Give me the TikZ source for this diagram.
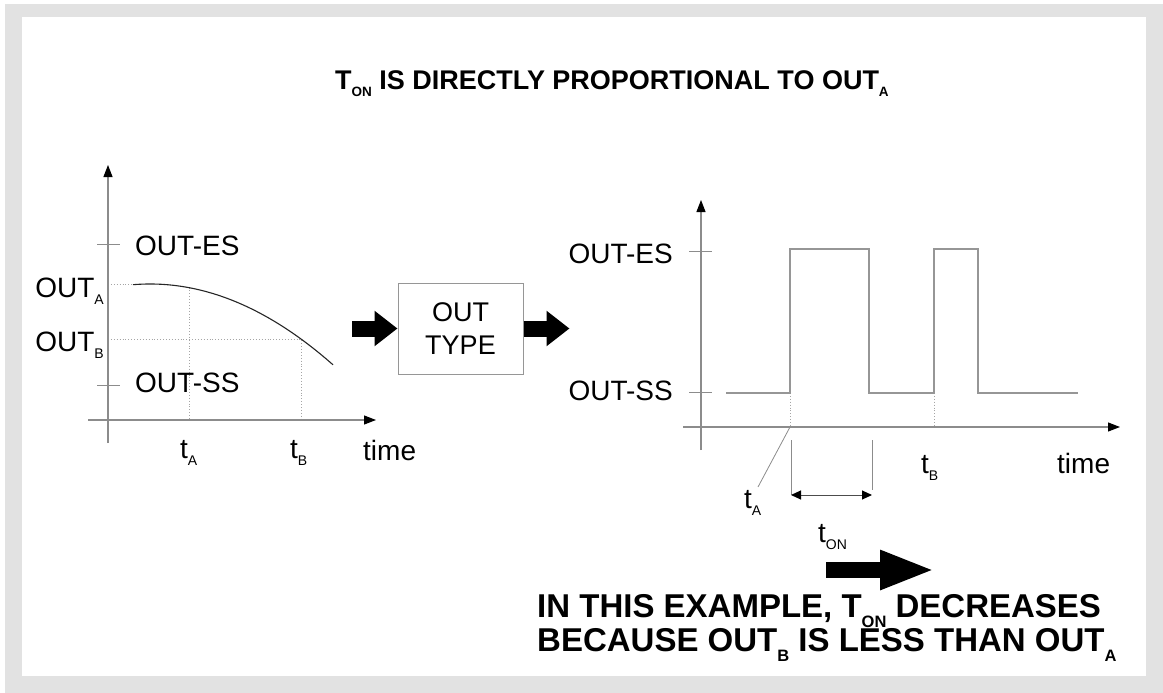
\documentclass[tikz,border=0pt]{standalone}
\usepackage{fontspec}
\setmainfont{Liberation Sans}
\usepackage{graphicx}
\usetikzlibrary{arrows.meta}

\newcommand{\lo}[1]{\raisebox{-0.27em}{\scalebox{0.5}{#1}}}
\newcommand{\lolo}[1]{\raisebox{-0.33em}{\scalebox{0.5}{#1}}}

\tikzset{
  axisline/.style={line width=1.1pt, color=axisGray, -{Triangle[length=12pt,width=9pt,color=black]}},
  tickline/.style={line width=1pt, color=axisGray},
  guideline/.style={line width=0.9pt, color=dotGray, dotted},
  signalline/.style={line width=1.1pt, color=sigGray},
  fatarrow/.style={line width=16pt, -{Triangle[length=23pt,width=34pt]}},
  bigarrow/.style={line width=16pt, -{Triangle[length=55pt,width=36pt]}},
  lbl/.style={inner sep=0pt, font=\fontsize{28}{33}\selectfont},
  note/.style={inner sep=0pt, font=\fontsize{33}{33}\selectfont\bfseries}
}

\begin{document}
\begin{tikzpicture}[x=1pt,y=-1pt]
\definecolor{frameGray}{RGB}{226,226,226}
\definecolor{axisGray}{RGB}{140,140,140}
\definecolor{sigGray}{RGB}{150,150,150}
\definecolor{dotGray}{RGB}{165,165,165}
\useasboundingbox (0,0) rectangle (1163,693);
\fill[frameGray] (5,4) rectangle (1163,693);
\fill[white] (22,17) rectangle (1146,676);

\node[anchor=base west, inner sep=0pt, font=\fontsize{27}{32}\selectfont\bfseries] (title) at (335,89) {T\lo{ON} IS DIRECTLY PROPORTIONAL TO OUT\lo{A}};

% input curve
\draw[guideline] (108,284) -- (133,284);
\draw[guideline] (189,287.5) -- (189,420);
\draw[guideline] (108,339) -- (301,339) -- (301,420);
\draw[line width=1.1pt, color=black!85] (133,284.7) .. controls (199.6,279.2) and (266.3,305.9) .. (333,364.8);
\draw[axisline] (108,443) -- (108,165);
\draw[axisline] (88,420) -- (376,420);
\draw[tickline] (97,244) -- (120,244);
\draw[tickline] (97,385) -- (120,385);
\node[lbl, anchor=base west] (esL) at (135,255) {OUT-ES};
\node[lbl, anchor=base west] (ssL) at (135,392) {OUT-SS};
\node[lbl, anchor=base east] (outA) at (104,297) {OUT\lo{A}};
\node[lbl, anchor=base east] (outB) at (104,351) {OUT\lo{B}};
\node[lbl, anchor=base west] (tAL) at (180,458) {t\lo{A}};
\node[lbl, anchor=base west] (tBL) at (290,458) {t\lo{B}};
\node[lbl, anchor=base west] (timeL) at (363,460) {time};

% block
\node[draw=sigGray, line width=1pt, minimum width=125pt, minimum height=91pt, align=center, font=\fontsize{27}{33}\selectfont] (outtype) at (460.5,328.5) {OUT\\TYPE};
\coordinate (feed) at (352,328.5);
\draw[fatarrow] (feed) -- (outtype.west);
\draw[fatarrow] (outtype.east) -- ++(46,0);

% output pulses
\draw[guideline] (790,393) -- (790,427);
\draw[guideline] (934,393) -- (934,427);
\draw[signalline] (726,393) -- (790,393) -- (790,249) -- (869,249) -- (869,393) -- (934,393) -- (934,249) -- (978,249) -- (978,393) -- (1078,393);
\draw[axisline] (701,450) -- (701,200);
\draw[axisline] (683,427) -- (1120,427);
\draw[tickline] (689,251) -- (712,251);
\draw[tickline] (689,392) -- (712,392);
\node[lbl, anchor=base east] (esR) at (673,263) {OUT-ES};
\node[lbl, anchor=base east] (ssR) at (673,400) {OUT-SS};
\node[lbl, anchor=base west] (tBR) at (921,473) {t\lo{B}};
\node[lbl, anchor=base west] (timeR) at (1057,473) {time};
\node[lbl, anchor=base west] (tAR) at (744,508) {t\lo{A}};
\node[lbl, anchor=base west] (tON) at (818,542) {t\lo{ON}};
\coordinate (riseA) at (790,427);
\coordinate (leadA) at (758,487);
\draw[tickline, line width=0.8pt] (riseA) -- (leadA);
\coordinate (onL) at (791,495);
\coordinate (onR) at (872,495);
\draw[tickline] (791,440) -- (onL);
\draw[tickline] (872,440) -- (872,490);
\draw[line width=1pt, color=black!70, {Triangle[length=10pt,width=9pt,color=black]}-{Triangle[length=10pt,width=9pt,color=black]}] (onL) -- (onR);

\coordinate (bigS) at (826,570);
\coordinate (bigE) at (935,570);
\draw[bigarrow] (bigS) -- (bigE);
\node[note, anchor=base west] (note1) at (537,617) {IN THIS EXAMPLE, T\lolo{ON} DECREASES};
\node[note, anchor=base west] (note2) at (537,651) {BECAUSE OUT\lolo{B} IS LESS THAN OUT\lolo{A}};
\end{tikzpicture}
\end{document}
